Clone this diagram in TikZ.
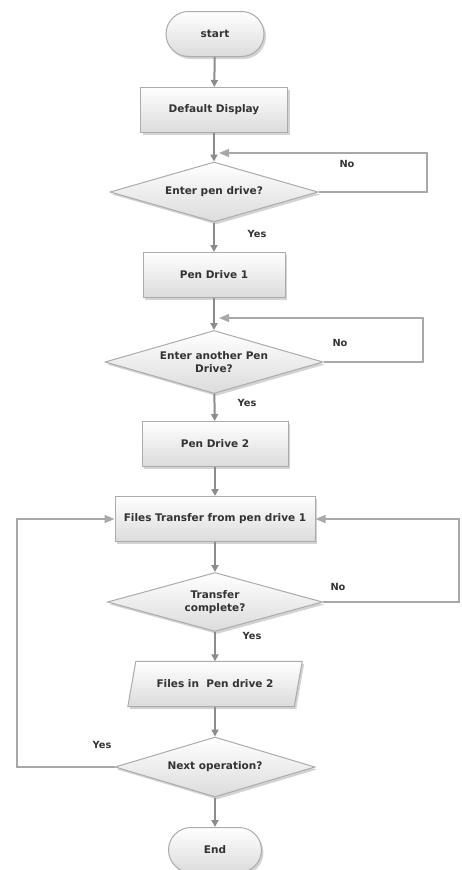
\documentclass[tikz,border=0pt]{standalone}
\usepackage{fontspec}
\setmainfont{DejaVu Sans}
\usetikzlibrary{shapes.geometric,shapes.misc,arrows.meta,shadows}
\definecolor{linegray}{HTML}{8C8C8C}
\definecolor{loopgray}{HTML}{A8A8A8}
\definecolor{bordergray}{HTML}{ABABAB}
\definecolor{txtgray}{HTML}{333333}
\begin{document}
\begin{tikzpicture}[x=1pt,y=-1pt,
  font=\bfseries\fontsize{10.5}{12.5}\selectfont, text=txtgray,
  box/.style={draw=bordergray, line width=1pt, top color=white, bottom color=black!14,
    drop shadow={shadow xshift=2pt,shadow yshift=-2.5pt,opacity=0.35},
    align=center, inner sep=1pt},
  rectbox/.style={box, rectangle, minimum height=45pt},
  termbox/.style={box, rounded rectangle, minimum height=45pt},
  diabox/.style={box, diamond, inner sep=0pt, aspect=3.5},
  arr/.style={draw=linegray, line width=2pt, -{Triangle[length=7pt,width=7pt]}},
  loopline/.style={draw=loopgray, line width=1.5pt, -{Triangle[length=10pt,width=8pt]}},
  lbl/.style={font=\bfseries\fontsize{9.8}{12}\selectfont, text=txtgray}
]
\useasboundingbox (0,0) rectangle (461,870);

% nodes
\node[termbox, minimum width=100pt] (start) at (215,34) {start};
\node[rectbox, minimum width=147pt] (disp) at (214,110) {Default Display};
\node[diabox, minimum width=208pt, minimum height=60pt] (d1) at (214,192) {Enter pen drive?};
\node[rectbox, minimum width=142pt] (pd1) at (214,275) {Pen Drive 1};
\node[diabox, minimum width=218pt, minimum height=63pt] (d2) at (214,362) {Enter another Pen\\Drive?};
\node[rectbox, minimum width=146pt] (pd2) at (215,444) {Pen Drive 2};
\node[rectbox, minimum width=200pt] (ft) at (215,519) {Files Transfer from pen drive 1};
\node[diabox, minimum width=215pt, minimum height=59pt] (d3) at (215,602) {Transfer\\complete?};
\node[inner sep=0pt, minimum width=166pt, minimum height=45pt] (fp) at (215,684) {};
\path[box] ([xshift=4pt]fp.north west) -- ([xshift=4pt]fp.north east)
  -- ([xshift=-4pt]fp.south east) -- ([xshift=-4pt]fp.south west) -- cycle;
\node at (fp) {Files in\ \ Pen drive 2};
\node[diabox, minimum width=200pt, minimum height=60pt] (d4) at (215,767) {Next operation?};
\node[termbox, minimum width=95pt] (end) at (215,850) {End};

% helper coordinates
\coordinate (c1) at (427,192);
\coordinate (c1b) at (427,153);
\coordinate (j1) at (219,153);
\coordinate (c2) at (423,362);
\coordinate (c2b) at (423,318);
\coordinate (j2) at (219,318);
\coordinate (c3) at (459,602);
\coordinate (c3b) at (459,519);
\coordinate (c4) at (17,767);
\coordinate (c4b) at (17,519);

% main flow
\draw[arr] (start) -- (disp);
\draw[arr] (disp) -- (d1);
\draw[arr] (d1) -- (pd1);
\draw[arr] (pd1) -- (d2);
\draw[arr] (d2) -- (pd2);
\draw[arr] (pd2) -- (ft);
\draw[arr] (ft) -- (d3);
\draw[arr] (d3) -- (fp);
\draw[arr] (fp) -- (d4);
\draw[arr] (d4) -- (end);

% loops
\draw[loopline] (d1.east) -- (c1) -- (c1b) -- (j1);
\draw[loopline] (d2.east) -- (c2) -- (c2b) -- (j2);
\draw[loopline] (d3.east) -- (c3) -- (c3b) -- (ft.east);
\draw[loopline] (d4.west) -- (c4) -- (c4b) -- (ft.west);

% labels
\node[lbl] (y1) at (257,234) {Yes};
\node[lbl] (n1) at (347,164) {No};
\node[lbl] (n2) at (340,343) {No};
\node[lbl] (y2) at (247,403) {Yes};
\node[lbl] (n3) at (338,587) {No};
\node[lbl] (y3) at (252,636) {Yes};
\node[lbl] (y4) at (102,745) {Yes};
\end{tikzpicture}
\end{document}
